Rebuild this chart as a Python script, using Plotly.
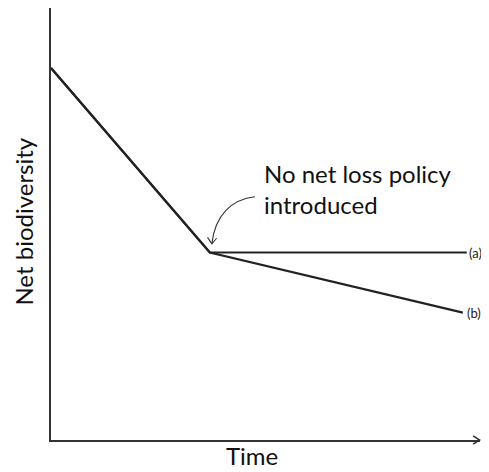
import plotly.graph_objects as go

# Data
time_a = [0, 36.6, 95.8]
biodiv_a = [86.1, 43.4, 43.4]
time_b = [0, 36.6, 94.9]
biodiv_b = [86.1, 43.4, 29.5]
series_labels = ["(a)", "(b)"]
policy_text = "No net loss policy<br>introduced"

FONT = "Lato"
INK = "#222222"
X_MAX = 98.85

fig = go.Figure()
fig.add_trace(go.Scatter(x=time_b, y=biodiv_b, mode="lines",
                         line=dict(color=INK, width=2.2), hoverinfo="skip"))
fig.add_trace(go.Scatter(x=time_a, y=biodiv_a, mode="lines",
                         line=dict(color=INK, width=2.2), hoverinfo="skip"))

# series end labels
fig.add_annotation(x=time_a[-1], y=biodiv_a[-1], text=series_labels[0], showarrow=False,
                   xanchor="left", yanchor="middle", xshift=0,
                   font=dict(family=FONT, size=13, color=INK))
fig.add_annotation(x=time_b[-1], y=biodiv_b[-1], text=series_labels[1], showarrow=False,
                   xanchor="left", yanchor="middle", xshift=2,
                   font=dict(family=FONT, size=13, color=INK))

# policy annotation text
jx, jy = time_a[1], biodiv_a[1]
fig.add_annotation(x=jx + 12.2, y=jy + 21.8, text=policy_text, showarrow=False,
                   xanchor="left", yanchor="top", align="left", borderpad=0,
                   font=dict(family=FONT, size=24, color="#111111"))

# curved arrow from text to the junction
sx, sy = jx + 10.4, jy + 12.9
tx, ty = jx + 0.46, jy + 2.0
c1x, c1y = jx + 5.1, jy + 12.3
c2x, c2y = jx + 1.2, jy + 8.8
fig.add_shape(type="path", xref="x", yref="y",
              path=f"M {sx},{sy} C {c1x},{c1y} {c2x},{c2y} {tx},{ty}",
              line=dict(color="#333333", width=1.1))
fig.add_shape(type="path", xref="x", yref="y",
              path=f"M {tx-1.0},{ty+1.5} L {tx},{ty} L {tx+1.1},{ty+1.3}",
              line=dict(color="#333333", width=1.1))

# x-axis arrowhead
fig.add_shape(type="path", xref="paper", yref="paper",
              path="M 0.984,0.0095 L 0.999,0 L 0.984,-0.0095",
              line=dict(color="#333333", width=1.6))

# axis titles
fig.add_annotation(xref="paper", yref="paper", x=-0.0635, y=0.505, text="Net biodiversity",
                   textangle=-90, showarrow=False, xanchor="center", yanchor="middle",
                   font=dict(family=FONT, size=24, color="#111111"))
fig.add_annotation(xref="paper", yref="paper", x=0.4685, y=-0.0741, text="Time",
                   showarrow=False, xanchor="center", yanchor="bottom",
                   font=dict(family=FONT, size=24, color="#111111"))

fig.update_xaxes(range=[0, X_MAX], showline=True, linecolor="#333333", linewidth=1.6,
                 showgrid=False, zeroline=False, showticklabels=False, ticks="")
fig.update_yaxes(range=[0, 100], showline=True, linecolor="#333333", linewidth=1.6,
                 showgrid=False, zeroline=False, showticklabels=False, ticks="")

# page body has an 8px margin and only ~481px of width is visible
fig.update_layout(width=473, height=464, showlegend=False,
                  margin=dict(l=43, r=1, t=0, b=32),
                  paper_bgcolor="white", plot_bgcolor="white")

fig.write_html("out.html")
